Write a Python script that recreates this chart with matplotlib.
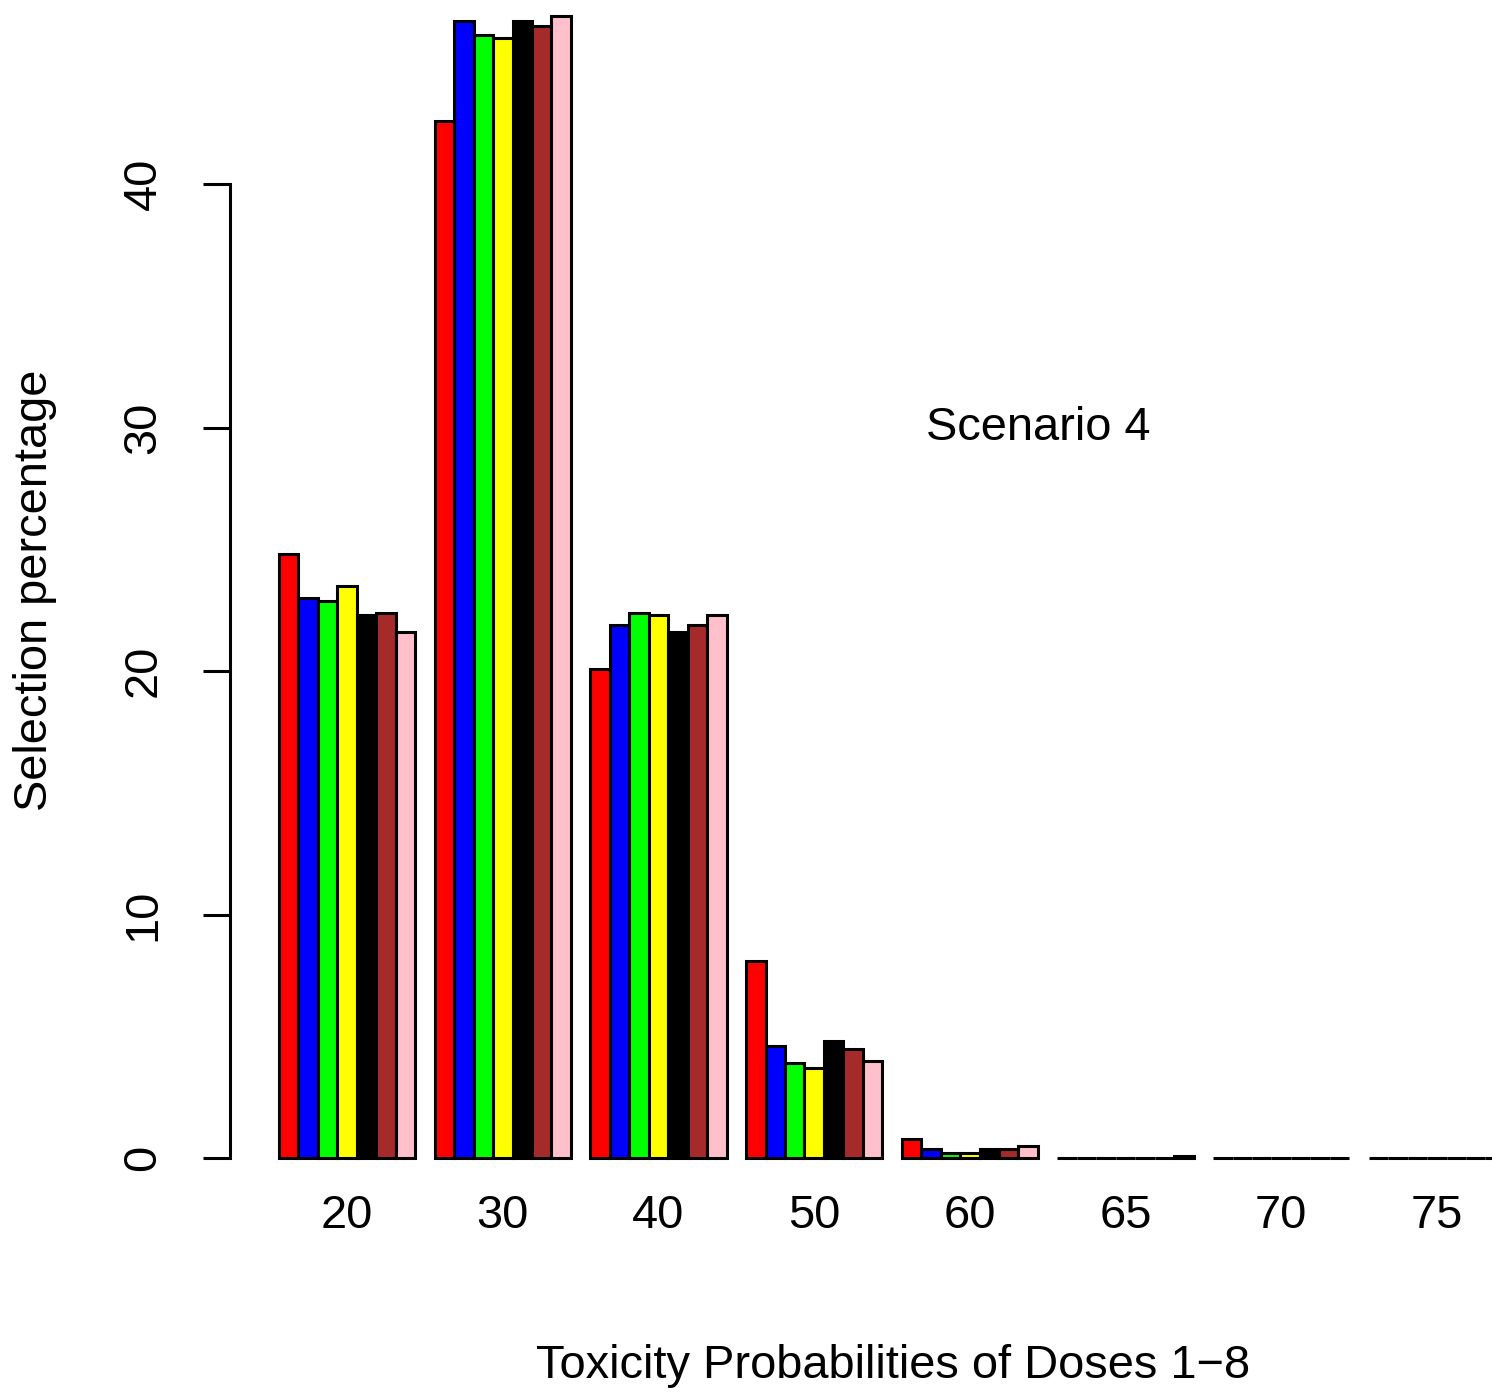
import matplotlib
matplotlib.use("Agg")
import matplotlib.pyplot as plt
import numpy as np

plt.rcParams['font.family'] = ['Liberation Sans', 'DejaVu Sans']

dose_labels = ["20", "30", "40", "50", "60", "65", "70", "75"]
colors = ["red", "blue", "#00ff00", "yellow", "black", "brown", "pink"]

method1 = [24.8, 42.6, 20.1, 8.1, 0.8, 0.0, 0.0, 0.0]
method2 = [23.0, 46.7, 21.9, 4.6, 0.4, 0.0, 0.0, 0.0]
method3 = [22.9, 46.1, 22.4, 3.9, 0.2, 0.0, 0.0, 0.0]
method4 = [23.5, 46.0, 22.3, 3.7, 0.2, 0.0, 0.0, 0.0]
method5 = [22.3, 46.7, 21.6, 4.8, 0.4, 0.0, 0.0, 0.0]
method6 = [22.4, 46.5, 21.9, 4.5, 0.4, 0.0, 0.0, 0.0]
method7 = [21.6, 46.9, 22.3, 4.0, 0.5, 0.1, 0.0, 0.0]

series = [method1, method2, method3, method4, method5, method6, method7]

W, H = 1492, 1392
FS = 33.8
fig = plt.figure(figsize=(W / 100, H / 100), dpi=100)
ax = fig.add_axes([230 / W, (H - 1204) / H, 1 - 230 / W, 1204 / H])

n_groups = len(dose_labels)
n_series = len(series)
group_width = n_series + 1
group_starts = 1 + np.arange(n_groups) * group_width

for s, vals in enumerate(series):
    ax.bar(group_starts + s + 0.5, vals, width=1.0, color=colors[s],
           edgecolor="black", linewidth=2.2, zorder=2)

ax.set_xlim(-1.52, (W - 259.5) / 19.46)
ax.set_ylim(-1.876, 1158 / 24.35)

for sp in ["top", "right", "bottom"]:
    ax.spines[sp].set_visible(False)
ax.spines["left"].set_bounds(0, 40)
ax.spines["left"].set_linewidth(2.2)

ax.set_yticks([0, 10, 20, 30, 40])
ax.set_yticklabels(["0", "10", "20", "30", "40"], rotation=90, va="center")
ax.tick_params(axis="y", length=19.5, width=2.2, labelsize=FS, pad=27)

ax.set_xticks(group_starts + n_series / 2)
ax.set_xticklabels(dose_labels)
ax.tick_params(axis="x", length=0, labelsize=FS, pad=-7)

ax.text(40, 30, "Scenario 4", ha="center", va="center", fontsize=FS)

fig.text(893 / W, 1 - 1366 / H, "Toxicity Probabilities of Doses 1\u22128",
         ha="center", va="center", fontsize=FS)
fig.text(35 / W, 1 - 590 / H, "Selection percentage", rotation=90,
         ha="center", va="center", fontsize=FS)

fig.savefig("out.png", dpi=100)
